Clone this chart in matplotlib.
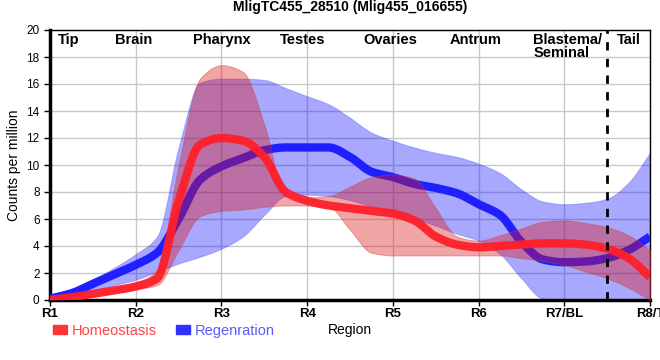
import numpy as np
import matplotlib.pyplot as plt
from matplotlib.patches import Patch

plt.rcParams['font.family'] = ['Liberation Sans', 'DejaVu Sans']

# 1. DATA (tiap 1/4 region)
region_ticks = ["R1", "R2", "R3", "R4", "R5", "R6", "R7/BL", "R8/T"]
pos = np.arange(0, 7.01, 0.25)

homeo_mean = [0.0, 0.2, 0.45, 0.7, 1.0, 1.6, 7.3, 11.5, 12.0, 11.8, 10.6, 8.0, 7.35, 7.0, 6.8,
              6.6, 6.4, 5.9, 4.7, 4.1, 3.9, 4.0, 4.1, 4.2, 4.2, 4.1, 3.8, 3.1, 1.7]
homeo_upper = [0.1, 0.3, 0.6, 0.9, 1.3, 2.2, 10.0, 16.4, 17.4, 16.9, 13.0, 7.7, 7.6, 7.7, 8.4,
               9.1, 9.3, 9.0, 6.8, 4.7, 4.4, 4.8, 5.3, 5.8, 5.9, 5.7, 5.4, 4.8, 3.7]
homeo_lower = [0.0, 0.1, 0.3, 0.55, 0.8, 1.1, 3.7, 6.2, 6.6, 6.7, 6.9, 7.0, 7.0, 6.9, 5.2,
               3.5, 3.3, 3.3, 3.3, 3.3, 3.3, 3.3, 3.1, 2.9, 2.6, 2.1, 1.6, 0.9, 0.0]

regen_mean = [0.1, 0.5, 1.2, 1.9, 2.6, 3.5, 6.0, 8.9, 9.9, 10.5, 11.1, 11.3, 11.3, 11.3, 10.6,
              9.5, 9.1, 8.6, 8.3, 7.9, 7.1, 6.3, 4.3, 3.0, 2.8, 2.85, 3.1, 3.7, 4.7]
regen_upper = [0.2, 0.7, 1.5, 2.4, 3.4, 4.7, 11.3, 16.1, 16.4, 16.4, 16.3, 15.7, 15.1, 14.5, 13.5,
               12.4, 11.8, 11.3, 10.9, 10.6, 10.1, 9.4, 8.2, 7.3, 7.1, 7.2, 7.5, 8.7, 10.9]
regen_lower = [0.05, 0.3, 0.7, 1.1, 1.5, 2.1, 2.7, 3.2, 3.8, 4.7, 6.3, 7.7, 7.8, 7.7, 7.4,
               6.9, 6.3, 6.0, 5.5, 4.9, 4.4, 3.4, 1.6, 0.1, 0.0, 0.0, 0.0, 0.0, 0.0]

region_names = ["Tip", "Brain", "Pharynx", "Testes", "Ovaries", "Antrum", "Blastema/\nSeminal", "Tail"]
name_x = [0.22, 0.97, 2.0, 2.95, 3.97, 4.97, 5.64, 6.75]
name_ha = ["center"] * 6 + ["left", "center"]

red_line = "#ff1f2a"
blue_line = "#1f1fff"


def smooth(x, y, n=12):
    """Kurva halus (monotone cubic Hermite) hanya untuk tampilan garis."""
    x = np.asarray(x, float)
    y = np.asarray(y, float)
    h = np.diff(x)
    d = np.diff(y) / h
    m = np.zeros_like(y)
    m[0], m[-1] = d[0], d[-1]
    for k in range(1, len(y) - 1):
        if d[k - 1] * d[k] > 0:
            w1 = 2 * h[k] + h[k - 1]
            w2 = h[k] + 2 * h[k - 1]
            m[k] = (w1 + w2) / (w1 / d[k - 1] + w2 / d[k])
    xs, ys = [], []
    for k in range(len(h)):
        t = np.linspace(0, 1, n, endpoint=False)
        h00 = 2 * t**3 - 3 * t**2 + 1
        h10 = t**3 - 2 * t**2 + t
        h01 = -2 * t**3 + 3 * t**2
        h11 = t**3 - t**2
        xs.append(x[k] + t * h[k])
        ys.append(h00 * y[k] + h10 * h[k] * m[k] + h01 * y[k + 1] + h11 * h[k] * m[k + 1])
    xs.append([x[-1]])
    ys.append([y[-1]])
    return np.concatenate(xs), np.concatenate(ys)


# 2. PLOT
fig = plt.figure(figsize=(6.6, 3.6), dpi=100)
ax = fig.add_axes([50 / 660, 60 / 360, 600 / 660, 270 / 360])

xs, rl = smooth(pos, regen_lower)
_, ru = smooth(pos, regen_upper)
_, rm = smooth(pos, regen_mean)
_, hl = smooth(pos, homeo_lower)
_, hu = smooth(pos, homeo_upper)
_, hm = smooth(pos, homeo_mean)

ax.fill_between(xs, rl, ru, color="#0000ff", alpha=0.34,
                edgecolor="#5050ff", linewidth=0.8, zorder=2)
ax.plot(xs, rm, color=blue_line, linewidth=6, solid_joinstyle="round",
        solid_capstyle="butt", zorder=3)
ax.fill_between(xs, hl, hu, color="#dc1414", alpha=0.38,
                edgecolor="#d04040", linewidth=0.8, zorder=4)
ax.plot(xs, hm, color=red_line, linewidth=6, alpha=0.95, solid_joinstyle="round",
        solid_capstyle="butt", zorder=5)

ax.axvline(6.5, color="black", linestyle=(0, (3, 3)), linewidth=2, zorder=6)

for name, x, ha in zip(region_names, name_x, name_ha):
    ax.text(x, 19.8, name, ha=ha, va="top", fontsize=10.5, fontweight="bold",
            linespacing=0.95, zorder=7)

ax.set_xlim(0, 7)
ax.set_ylim(0, 20)
ax.set_xticks(range(len(region_ticks)))
ax.set_xticklabels(region_ticks, fontsize=9.5, fontweight="bold")
ax.set_yticks(range(0, 21, 2))
ax.tick_params(axis="y", labelsize=8.5, length=4, width=1)
ax.tick_params(axis="x", length=4, width=1, pad=2)
ax.grid(color="#c8c8c8", linewidth=1, zorder=0)
ax.set_axisbelow(True)

for side in ["left", "bottom"]:
    ax.spines[side].set_linewidth(2.5)
for side in ["top", "right"]:
    ax.spines[side].set_linewidth(1)

ax.set_ylabel("Counts per million", fontsize=10, labelpad=4)
ax.set_xlabel("Region", fontsize=10, labelpad=2)
ax.set_title("MligTC455_28510 (Mlig455_016655)", fontsize=10, fontweight="bold", pad=14)

handles = [Patch(color="#ff3535", label="Homeostasis"),
           Patch(color="#3030ff", label="Regenration")]
fig.legend(handles=handles, loc="lower left", bbox_to_anchor=(0.06, 0.025), ncol=2,
           frameon=False, fontsize=10.5, handlelength=1.0, handleheight=0.6,
           handletextpad=0.3, columnspacing=1.3, labelcolor=["#ff4545", "#5a5aff"])

plt.savefig("out.png", dpi=100)
